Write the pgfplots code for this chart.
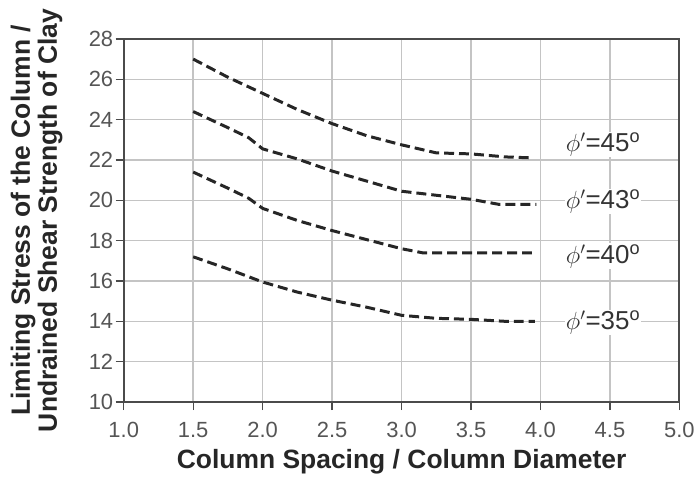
\documentclass[border=0pt]{standalone}
\usepackage{fontspec}
\setmainfont{Liberation Sans}
\usepackage{pgfplots}
\pgfplotsset{compat=1.18}
\definecolor{curvegray}{RGB}{38,38,38}
\definecolor{gridgray}{RGB}{196,196,196}
\definecolor{framegray}{RGB}{75,75,75}
\definecolor{ticktext}{RGB}{85,85,85}
\tikzset{curve/.style={curvegray, line width=3pt, dash pattern=on 10pt off 5pt}}

\begin{document}
\begin{tikzpicture}
\begin{axis}[
    name=ax,
    scale only axis,
    width=557pt, height=364pt,
    xmin=1, xmax=5, ymin=10, ymax=28,
    xtick={1,1.5,...,5}, ytick={10,12,...,28},
    xticklabel style={/pgf/number format/fixed, /pgf/number format/fixed zerofill, /pgf/number format/precision=1, yshift=-9pt},
    yticklabel style={xshift=1pt},
    /pgf/number format/assume math mode=true,
    tick label style={font=\fontsize{22}{24}\selectfont, text=ticktext},
    grid=major,
    grid style={draw=gridgray, line width=1.5pt},
    axis line style={draw=framegray, line width=2pt},
    tick style={draw=framegray, line width=1.3pt},
    tick align=outside, major tick length=8pt,
    xtick pos=bottom, ytick pos=left,
    xlabel={\bfseries Column Spacing / Column Diameter},
    ylabel={\bfseries Limiting Stress of the Column /\\\bfseries Undrained Shear Strength of Clay},
    label style={font=\fontsize{26.5}{27}\selectfont, text=black!85},
    ylabel style={align=center, at={(rel axis cs:-0.104,0.5)}, anchor=south},
    xlabel style={at={(rel axis cs:0.5,0)}, anchor=base, yshift=-67pt},
]
\addplot[curve] coordinates {(1.5,27.0) (1.75,26.1) (2.0,25.3) (2.25,24.5) (2.5,23.8) (2.75,23.2) (3.0,22.75) (3.25,22.35) (3.5,22.3) (3.75,22.15) (3.95,22.1)};
\addplot[curve] coordinates {(1.5,24.4) (1.75,23.6) (1.9,23.1) (2.0,22.55) (2.25,22.05) (2.5,21.45) (2.75,20.95) (3.0,20.45) (3.25,20.25) (3.5,20.05) (3.7,19.8) (3.97,19.8)};
\addplot[curve] coordinates {(1.5,21.4) (1.75,20.6) (1.9,20.1) (2.0,19.6) (2.25,19.0) (2.5,18.5) (2.75,18.05) (3.0,17.6) (3.15,17.4) (3.5,17.4) (3.96,17.4)};
\addplot[curve] coordinates {(1.5,17.2) (1.75,16.6) (2.0,15.95) (2.25,15.45) (2.5,15.05) (2.75,14.7) (3.0,14.3) (3.25,14.15) (3.5,14.1) (3.75,14.0) (3.96,14.0)};
\begin{scope}[every node/.style={font=\fontsize{26}{28}\selectfont, text=black!80, fill=white, inner sep=1pt}]
\node at (axis cs:4.45,22.76) {$\phi'$=45\textsuperscript{o}};
\node at (axis cs:4.45,19.95) {$\phi'$=43\textsuperscript{o}};
\node at (axis cs:4.45,17.23) {$\phi'$=40\textsuperscript{o}};
\node at (axis cs:4.45,13.95) {$\phi'$=35\textsuperscript{o}};
\end{scope}
\end{axis}
\path ([xshift=-124pt,yshift=-81pt]ax.south west) rectangle ([xshift=17pt,yshift=39pt]ax.north east);
\end{tikzpicture}
\end{document}
